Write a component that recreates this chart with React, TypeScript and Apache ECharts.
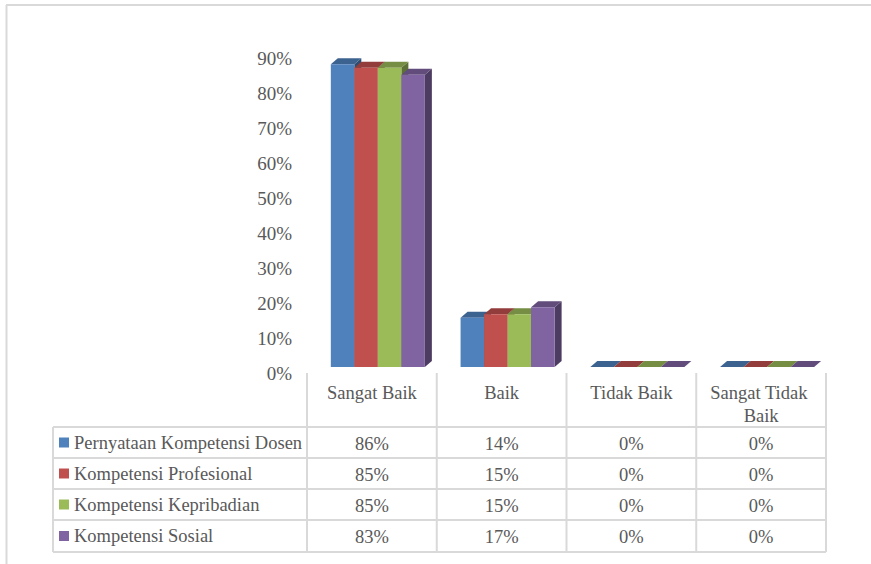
import React, { useEffect, useRef } from "react";
import * as echarts from "echarts";

const categories = ["Sangat Baik", "Baik", "Tidak Baik", "Sangat Tidak Baik"];
const seriesNames = [
  "Pernyataan Kompetensi Dosen",
  "Kompetensi Profesional",
  "Kompetensi Kepribadian",
  "Kompetensi Sosial",
];
const dosenValues = [86, 14, 0, 0];
const profesionalValues = [85, 15, 0, 0];
const kepribadianValues = [85, 15, 0, 0];
const sosialValues = [83, 17, 0, 0];
const seriesValues = [dosenValues, profesionalValues, kepribadianValues, sosialValues];
const seriesColors = ["#4F81BD", "#C0504D", "#9BBB59", "#8064A2"];
const yMax = 90;
const yInterval = 10;

const W = 871;
const H = 564;
const GRID_LEFT = 307;
const GRID_RIGHT = 45;
const GRID_TOP = 58;
const GRID_BOTTOM = 191;
const FONT = "Liberation Serif";
const FONT_SIZE = 18.5;
const TEXT_COLOR = "#595959";
const LINE_COLOR = "#d9d9d9";
const DEPTH_X = 7;
const DEPTH_Y = 6;
const FRONT_LIFT = 6;

function shade(hex: string, f: number) {
  const n = parseInt(hex.slice(1), 16);
  const r = Math.round(((n >> 16) & 255) * f);
  const g = Math.round(((n >> 8) & 255) * f);
  const b = Math.round((n & 255) * f);
  return `rgb(${r},${g},${b})`;
}

export default function App() {
  const ref = useRef<HTMLDivElement>(null);
  useEffect(() => {
    if (!ref.current) return;
    const chart = echarts.init(ref.current, null, { renderer: "svg" });

    const plotW = W - GRID_LEFT - GRID_RIGHT;
    const catW = plotW / categories.length;
    const axisY = H - GRID_BOTTOM;
    const headerBottom = 427;
    const rowBounds = [427, 458, 489, 520, 552];
    const tableLeft = 53;
    const tableRight = GRID_LEFT + plotW;

    const graphics: any[] = [];
    graphics.push({ type: "line", shape: { x1: 6, y1: 5, x2: W, y2: 5 }, style: { stroke: LINE_COLOR, lineWidth: 2 } });
    graphics.push({ type: "line", shape: { x1: 6.5, y1: 5, x2: 6.5, y2: H }, style: { stroke: LINE_COLOR, lineWidth: 2 } });
    for (let k = 0; k <= categories.length; k++) {
      const x = GRID_LEFT + k * catW;
      graphics.push({ type: "line", shape: { x1: x, y1: axisY, x2: x, y2: rowBounds[rowBounds.length - 1] }, style: { stroke: LINE_COLOR, lineWidth: 2 } });
    }
    graphics.push({ type: "line", shape: { x1: tableLeft, y1: headerBottom, x2: tableLeft, y2: rowBounds[rowBounds.length - 1] }, style: { stroke: LINE_COLOR, lineWidth: 2 } });
    rowBounds.forEach((y) => {
      graphics.push({ type: "line", shape: { x1: tableLeft, y1: y, x2: tableRight, y2: y }, style: { stroke: LINE_COLOR, lineWidth: 2 } });
    });
    seriesNames.forEach((name, s) => {
      const cy = (rowBounds[s] + rowBounds[s + 1]) / 2;
      graphics.push({ type: "rect", shape: { x: 59, y: cy - 5, width: 10, height: 10 }, style: { fill: seriesColors[s] } });
      graphics.push({
        type: "text",
        x: 74,
        y: cy,
        style: { text: name, fill: TEXT_COLOR, fontSize: FONT_SIZE, fontFamily: FONT, align: "left", verticalAlign: "middle", textAlign: "left", textVerticalAlign: "middle" },
      });
      seriesValues[s].forEach((v, c) => {
        graphics.push({
          type: "text",
          x: GRID_LEFT + (c + 0.5) * catW,
          y: cy + 1,
          style: { text: v + "%", fill: TEXT_COLOR, fontSize: FONT_SIZE, fontFamily: FONT, align: "center", verticalAlign: "middle", textAlign: "center", textVerticalAlign: "middle" },
        });
      });
    });

    const makeRender = (s: number) => (params: any, api: any) => {
      const cat = api.value(0);
      const v = api.value(1);
      const cw = api.size([1, 0])[0];
      const bw = cw * 0.1812;
      const center = api.coord([cat, 0])[0] + cw * 0.046;
      const x0 = center - 2 * bw + s * bw;
      const y0 = api.coord([cat, 0])[1];
      const yv = api.coord([cat, v])[1];
      const yb = y0 - FRONT_LIFT;
      const yt = yb - (y0 - yv) * 1.006;
      const color = seriesColors[s];
      return {
        type: "group",
        children: [
          {
            type: "polygon",
            shape: { points: [[x0 + bw, yt], [x0 + bw + DEPTH_X, yt - DEPTH_Y], [x0 + bw + DEPTH_X, yb - DEPTH_Y], [x0 + bw, yb]] },
            style: { fill: shade(color, 0.6) },
          },
          {
            type: "polygon",
            shape: { points: [[x0, yt], [x0 + bw, yt], [x0 + bw + DEPTH_X, yt - DEPTH_Y], [x0 + DEPTH_X, yt - DEPTH_Y]] },
            style: { fill: shade(color, 0.76) },
          },
          {
            type: "rect",
            shape: { x: x0, y: yt, width: bw, height: yb - yt },
            style: { fill: color },
          },
        ],
      };
    };

    chart.setOption({
      animation: false,
      backgroundColor: "#ffffff",
      textStyle: { fontFamily: FONT },
      grid: { left: GRID_LEFT, right: GRID_RIGHT, top: GRID_TOP, bottom: GRID_BOTTOM },
      xAxis: {
        type: "category",
        data: categories,
        axisLine: { show: false },
        axisTick: { show: false },
        splitLine: { show: false },
        axisLabel: {
          interval: 0,
          margin: 8,
          color: TEXT_COLOR,
          fontFamily: FONT,
          fontSize: FONT_SIZE,
          lineHeight: 23,
          width: 120,
          overflow: "break",
          align: "center",
        },
      },
      yAxis: {
        type: "value",
        min: 0,
        max: yMax,
        interval: yInterval,
        axisLine: { show: false },
        axisTick: { show: false },
        splitLine: { show: false },
        axisLabel: {
          margin: 15,
          color: TEXT_COLOR,
          fontFamily: FONT,
          fontSize: 19,
          formatter: "{value}%",
        },
      },
      series: seriesNames.map((name, s) => ({
        type: "custom",
        name,
        renderItem: makeRender(s),
        encode: { x: 0, y: 1 },
        data: seriesValues[s].map((v, i) => [i, v]),
      })),
      graphic: graphics,
    });
    return () => chart.dispose();
  }, []);
  return (
    <div
      ref={ref}
      style={{ position: "absolute", left: 0, top: 0, width: W, height: H, background: "#fff" }}
    />
  );
}
